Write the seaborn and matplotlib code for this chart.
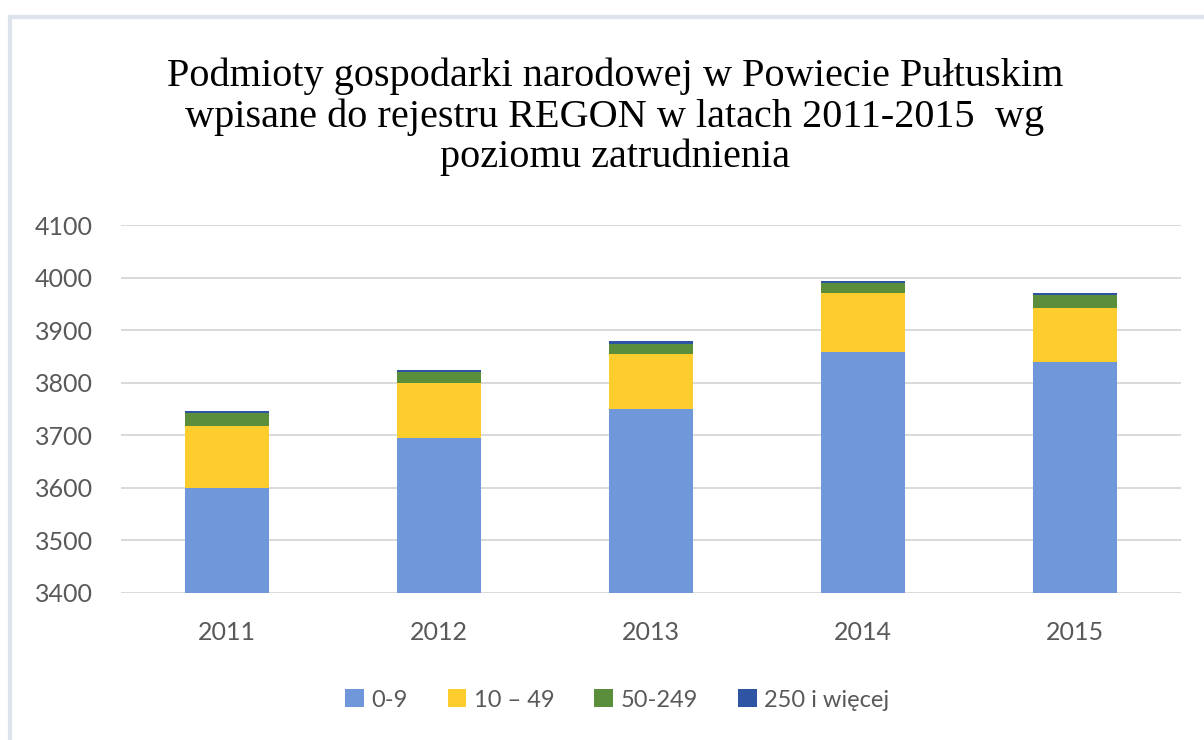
import numpy as np
import pandas as pd
import seaborn as sns
import matplotlib.pyplot as plt
from matplotlib.patches import Patch, Rectangle

# data
years = ["2011", "2012", "2013", "2014", "2015"]
emp_0_9 = [3600, 3694, 3750, 3859, 3839]
emp_10_49 = [118, 105, 104, 111, 104]
emp_50_249 = [25, 21, 20, 19, 24]
emp_250_plus = [3, 5, 5, 5, 3]

series_labels = ["0-9", "10 \u2013 49", "50-249", "250 i wi\u0119cej"]
series_colors = ["#7097DA", "#FCCD2C", "#5A8E3A", "#2E54A3"]

title = ("Podmioty gospodarki narodowej w Powiecie Pułtuskim\n"
         "wpisane do rejestru REGON w latach 2011-2015  wg\n"
         "poziomu zatrudnienia")

sns.set_style("white")
plt.rcParams['font.family'] = ['Lato', 'DejaVu Sans']

df = pd.DataFrame({
    "year": years,
    "s0": emp_0_9,
    "s1": emp_10_49,
    "s2": emp_50_249,
    "s3": emp_250_plus,
})
cols = ["s0", "s1", "s2", "s3"]
cum = df[cols].cumsum(axis=1)

fig = plt.figure(figsize=(12.04, 7.40), dpi=100)
ax = fig.add_axes([121 / 1204, 1 - 593 / 740, 1060 / 1204, 368 / 740])

# stacked bars: draw cumulative totals from the top segment down
for col, color in reversed(list(zip(cols, series_colors))):
    sns.barplot(x=df["year"], y=cum[col], color=color, width=0.4,
                saturation=1, linewidth=0, ax=ax, zorder=3)

ax.set_ylim(3400, 4100)
ax.set_yticks(np.arange(3400, 4101, 100))
ax.set_xlim(-0.5, 4.5)
ax.set_xlabel("")
ax.set_ylabel("")
ax.grid(axis="y", color="#D9D9D9", linewidth=1.4, zorder=0)
ax.set_axisbelow(True)
for s in ax.spines.values():
    s.set_visible(False)
ax.tick_params(axis="both", length=0, labelsize=18, labelcolor="#595959")
ax.tick_params(axis="y", pad=20)
ax.tick_params(axis="x", pad=20)

fig.text(615 / 1204, 1 - 117 / 740, title, ha="center", va="center",
         family="Liberation Serif", fontsize=29, color="#000000",
         linespacing=1.1)

handles = [Patch(facecolor=c, edgecolor="none") for c in series_colors]
fig.legend(handles, series_labels, loc="center", bbox_to_anchor=(617 / 1204, 1 - 700 / 740),
           ncol=4, frameon=False, fontsize=17, labelcolor="#595959",
           handlelength=0.8, handleheight=0.8, handletextpad=0.3, columnspacing=1.7)

fig.patches.append(Rectangle((10 / 1204, -0.05), 1.1, 1 - 17 / 740 + 0.05,
                             transform=fig.transFigure, fill=False,
                             edgecolor="#DDE3EA", linewidth=3))

fig.savefig("out.png", dpi=100)
